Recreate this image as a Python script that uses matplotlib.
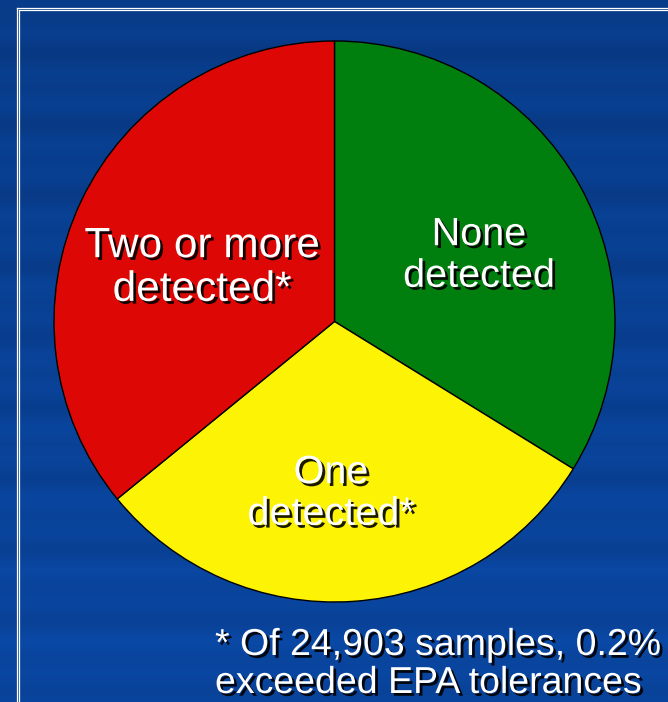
import matplotlib
matplotlib.use("Agg")
import matplotlib.pyplot as plt
import matplotlib.patheffects as pe
from matplotlib.lines import Line2D
import numpy as np

W, H = 668, 702

labels  = ["None\ndetected", "One\ndetected*", "Two or more\ndetected*"]
shares  = [33.8, 30.3, 35.9]
colors  = ["#007f0e", "#fcf305", "#dd0806"]
label_xy = [(479, 255), (331, 493), (202, 268)]   # pixel positions of the slice labels
label_fs = [28.5, 28.5, 30.5]
note_lines = ["* Of 24,903 samples, 0.2%", "exceeded EPA tolerances"]

plt.rcParams['font.family'] = ['Liberation Sans', 'DejaVu Sans']

fig = plt.figure(figsize=(W/100, H/100), dpi=100)
ax = fig.add_axes([0, 0, 1, 1])

#============ blue streaked background ============
rows = np.arange(H)
shade = 0.5 + 0.5*np.sin(rows/7.5) * np.cos(rows/23.0)
top = np.array([0.04, 0.29, 0.66])
dark = np.array([0.03, 0.22, 0.52])
col = top[None, :]*(1-0.45*shade[:, None]) + dark[None, :]*0.45*shade[:, None]
fade = np.linspace(1.0, 0.85, H)[:, None]
bg = (col*fade)[:, None, :].repeat(W, axis=1)
ax.imshow(bg, extent=(0, W, H, 0), origin="upper", zorder=0, aspect="auto")

# double white frame (runs off right and bottom edges)
for off in (0, 2):
    ax.add_line(Line2D([17+off, W], [H-8-off, H-8-off], color="white", lw=0.9, zorder=1))
    ax.add_line(Line2D([17+off, 17+off], [0, H-8-off], color="white", lw=0.9, zorder=1))

#============ pie ============
cx, cy, r = 334.5, H-321.5, 280.5
ax.pie(shares, colors=colors, startangle=90, counterclock=False,
       center=(cx, cy), radius=r, frame=True,
       wedgeprops=dict(edgecolor="black", linewidth=1.0, zorder=2))
ax.set_xlim(0, W)
ax.set_ylim(0, H)
ax.set_aspect("auto")
ax.axis("off")

shadow = [pe.SimplePatchShadow(offset=(2, -2), shadow_rgbFace="black", alpha=0.9), pe.Normal()]

for lab, (x, y), fs in zip(labels, label_xy, label_fs):
    ax.text(x, H-y, lab, ha="center", va="center", fontsize=fs, color="white",
            linespacing=1.12, zorder=5, path_effects=shadow)

ax.text(215, H-655, note_lines[0], ha="left", va="baseline", fontsize=27,
        color="white", zorder=5, path_effects=shadow)
ax.text(215, H-693, note_lines[1], ha="left", va="baseline", fontsize=27,
        color="white", zorder=5, path_effects=shadow)

plt.savefig("out.png", dpi=100)
plt.close(fig)
